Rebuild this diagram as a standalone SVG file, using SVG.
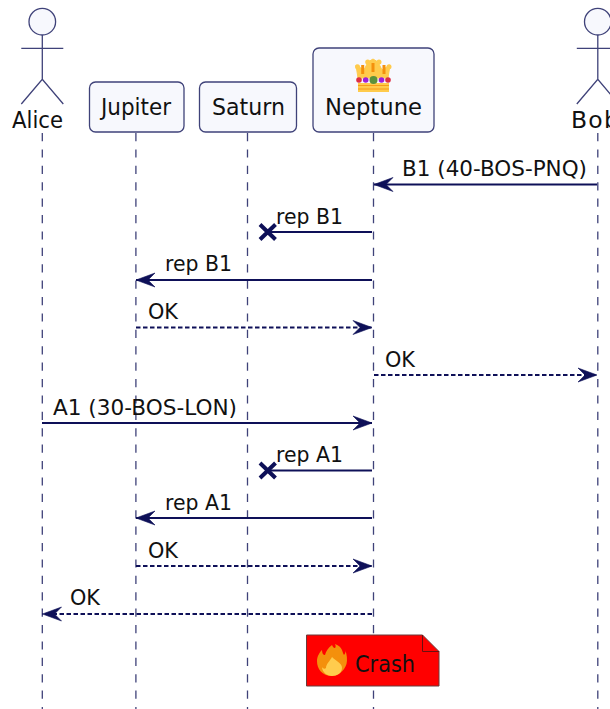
<svg xmlns="http://www.w3.org/2000/svg" width="610" height="709" viewBox="0 0 610 709">
<style>
.life{stroke:#3f4279;stroke-width:1.300;stroke-dasharray:8.200 8.200;fill:none}
.box{fill:#f7f8fd;stroke:#3f4279;stroke-width:1.300}
.act{fill:#f7f8fd;stroke:#3f4279;stroke-width:1.300}
.name{font-family:"DejaVu Sans",sans-serif;font-size:23.500px;fill:#111}
.msg{font-family:"DejaVu Sans",sans-serif;font-size:22px;fill:#111}
.m{stroke:#0e1058;stroke-width:2;fill:none}
.d{stroke:#0e1058;stroke-width:2;fill:none;stroke-dasharray:4.500 2.500}
.x{stroke:#0e1058;stroke-width:4;fill:none}
</style>
<defs>
<marker id="fill" markerUnits="userSpaceOnUse" markerWidth="22" markerHeight="18" refX="20" refY="9" orient="auto"><path d="M1 2L20 9L1 16L8 9Z" fill="#0e1058" stroke="#0e1058" stroke-width=".6"/></marker>
<g id="stick"><circle cx="0" cy="21.700" r="13.300" class="act"/><path class="act" d="M0 35V79.300M-21 48.300H21M-21 104L0 79.300L21 104" style="fill:none"/></g>
</defs>
<g id="lifelines">
<line class="life" x1="42.300" y1="133" x2="42.300" y2="709"/>
<line class="life" x1="135.900" y1="133" x2="135.900" y2="709"/>
<line class="life" x1="247.500" y1="133" x2="247.500" y2="709"/>
<line class="life" x1="373.500" y1="133" x2="373.500" y2="709"/>
<line class="life" x1="597.800" y1="133" x2="597.800" y2="709"/>
</g>
<g id="alice"><use href="#stick" x="42.300"/><text class="name" x="12" y="128" textLength="51" lengthAdjust="spacingAndGlyphs">Alice</text></g>
<g id="jupiter"><rect class="box" x="89.500" y="82" width="94.500" height="50" rx="6"/><text class="name" x="101" y="115" textLength="70" lengthAdjust="spacingAndGlyphs">Jupiter</text></g>
<g id="saturn"><rect class="box" x="199.500" y="82" width="97" height="50" rx="6"/><text class="name" x="212" y="115" textLength="73" lengthAdjust="spacingAndGlyphs">Saturn</text></g>
<g id="neptune"><rect class="box" x="313" y="48" width="121" height="84" rx="6"/>
<path d="M358 78L356 65L364 70L368 62L373 59L378 62L382 70L390 65L388 78Z" fill="#ffcb4c" stroke="#ffcb4c"/>
<g fill="#ffcb4c"><circle cx="357.500" cy="66.700" r="2.500"/><circle cx="367.700" cy="62" r="2.500"/><circle cx="379" cy="62" r="2.500"/><circle cx="389" cy="66.700" r="2.500"/></g>
<g fill="#f4900c"><rect x="361.200" y="65" width="3" height="9"/><rect x="371.500" y="63" width="3" height="9"/><rect x="382.500" y="65" width="3" height="9"/></g>
<rect x="358" y="83" width="31" height="9" fill="#ffcb4c"/><path d="M358 85.500H389M358 89H389" stroke="#f4900c" stroke-width=".8"/>
<circle cx="359" cy="80" r="2.800" fill="#dd2e44"/><circle cx="365.700" cy="80" r="2.800" fill="#9c1fd8"/><circle cx="373.500" cy="80" r="4" fill="#5c913b"/><circle cx="381.500" cy="80" r="2.800" fill="#9c1fd8"/><circle cx="388" cy="80" r="2.800" fill="#dd2e44"/>
<text class="name" x="325" y="115" textLength="97" lengthAdjust="spacingAndGlyphs">Neptune</text></g>
<g id="bob"><use href="#stick" x="597.800"/><text class="name" x="571" y="128" letter-spacing="1.200">Bob</text></g>
<g id="connectors">
<line class="m" x1="597" y1="184.500" x2="374" y2="184.500" marker-end="url(#fill)"/>
<line class="m" x1="372" y1="232" x2="268" y2="232"/>
<path class="x" d="M260 224.500L275.500 239.500M275.500 224.500L260 239.500"/>
<line class="m" x1="372" y1="280" x2="136" y2="280" marker-end="url(#fill)"/>
<line class="d" x1="136" y1="327.500" x2="372" y2="327.500" marker-end="url(#fill)"/>
<line class="d" x1="374" y1="375" x2="597" y2="375" marker-end="url(#fill)"/>
<line class="m" x1="42" y1="423" x2="372" y2="423" marker-end="url(#fill)"/>
<line class="m" x1="372" y1="470.500" x2="268" y2="470.500"/>
<path class="x" d="M260 463L275.500 478M275.500 463L260 478"/>
<line class="m" x1="372" y1="518" x2="136" y2="518" marker-end="url(#fill)"/>
<line class="d" x1="136" y1="566" x2="372" y2="566" marker-end="url(#fill)"/>
<line class="d" x1="372" y1="614" x2="42.500" y2="614" marker-end="url(#fill)"/>
</g>
<g id="labels">
<text class="msg" x="402" y="175.500" textLength="185" lengthAdjust="spacingAndGlyphs">B1 (40-BOS-PNQ)</text>
<text class="msg" x="276" y="223.500" textLength="67" lengthAdjust="spacingAndGlyphs">rep B1</text>
<text class="msg" x="165" y="271" textLength="67" lengthAdjust="spacingAndGlyphs">rep B1</text>
<text class="msg" x="148" y="319" textLength="30" lengthAdjust="spacingAndGlyphs">OK</text>
<text class="msg" x="385" y="367" textLength="30" lengthAdjust="spacingAndGlyphs">OK</text>
<text class="msg" x="53" y="414.500" textLength="184" lengthAdjust="spacingAndGlyphs">A1 (30-BOS-LON)</text>
<text class="msg" x="276" y="462" textLength="67" lengthAdjust="spacingAndGlyphs">rep A1</text>
<text class="msg" x="165" y="510" textLength="67" lengthAdjust="spacingAndGlyphs">rep A1</text>
<text class="msg" x="148" y="558" textLength="30" lengthAdjust="spacingAndGlyphs">OK</text>
<text class="msg" x="70" y="605" textLength="30" lengthAdjust="spacingAndGlyphs">OK</text>
</g>
<g id="crash">
<path d="M306.500 635H422.500L439 651.500V686H306.500Z" fill="#f00" stroke="#6a3a3a" stroke-width="1"/>
<path d="M422.500 635V651.500H439" fill="none" stroke="#6a1010" stroke-width="1"/>
<path d="M332 645C334 650 337 648 335 644C343 647 342 652 344 655C345 654 346 652 345 650C347 654 347.500 660 346.500 664C344 672 337 676 332 676C322 676 317 669 317 661C317 656 320 652 322 650C322 653 323 655 325 655C326 651 328 648 332 645Z" fill="#f4900c"/>
<path d="M332 657C336 661 342 663 342 668C342 673 337 676 332 676C327 676 322 672 322 667C323 669 325 669 326 668C326 664 330 661 332 657Z" fill="#ffcc4d"/>
<text class="name" x="355" y="672" textLength="60" lengthAdjust="spacingAndGlyphs">Crash</text>
</g>
</svg>
